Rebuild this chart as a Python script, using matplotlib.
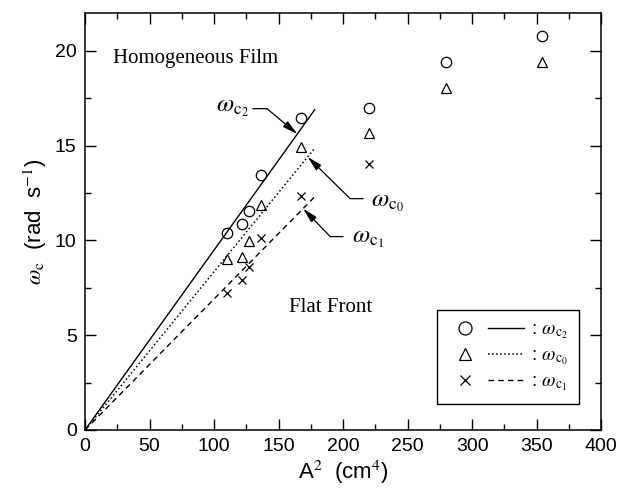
import matplotlib
matplotlib.use("Agg")
import matplotlib.pyplot as plt
from matplotlib.legend_handler import HandlerTuple
from matplotlib.ticker import MultipleLocator
import numpy as np

plt.rcParams['font.family'] = ['Liberation Sans', 'DejaVu Sans']
plt.rcParams['mathtext.fontset'] = 'stix'

# measured critical frequencies vs A^2
a2 = [110, 122, 127, 136, 167, 220, 280, 354]
wc2 = [10.4, 10.85, 11.55, 13.45, 16.45, 17.0, 19.4, 20.8]
wc0 = [9.0, 9.1, 9.95, 11.85, 14.95, 15.65, 18.05, 19.4]
wc1 = [7.2, 7.9, 8.6, 10.1, 12.35, 14.05]

# straight-line fits through the origin
fit_x = [0, 178]
slope_c2 = 0.0949
slope_c0 = 0.0835
slope_c1 = 0.0691

fig = plt.figure(figsize=(6.21, 4.97), dpi=100, facecolor='white')
ax = fig.add_axes([0.137, 0.135, 0.831, 0.839])

fx = np.array(fit_x)
l2, = ax.plot(fx, slope_c2 * fx, 'k-', lw=1.0)
l0, = ax.plot(fx, slope_c0 * fx, 'k:', lw=1.1)
l1, = ax.plot(fx, slope_c1 * fx, 'k--', lw=1.0, dashes=(4, 3))

m2, = ax.plot(a2, wc2, 'o', mfc='none', mec='k', ms=7.5, mew=0.9, ls='none')
m0, = ax.plot(a2, wc0, '^', mfc='none', mec='k', ms=7, mew=0.9, ls='none')
m1, = ax.plot(a2[:len(wc1)], wc1, 'x', color='k', ms=5.5, mew=0.9, ls='none')

ax.set_xlim(0, 400)
ax.set_ylim(0, 22)
ax.xaxis.set_major_locator(MultipleLocator(50))
ax.xaxis.set_minor_locator(MultipleLocator(25))
ax.yaxis.set_major_locator(MultipleLocator(5))
ax.yaxis.set_minor_locator(MultipleLocator(2.5))
ax.tick_params(which='both', direction='in', top=True, right=True, labelsize=14, width=1)
ax.tick_params(which='major', length=8, pad=6)
ax.tick_params(which='minor', length=4)
for s in ax.spines.values():
    s.set_linewidth(1.1)

ax.set_xlabel(r'A$^2$  (cm$^4$)', fontsize=16, labelpad=2)
ax.set_ylabel(r'$\omega_{\rm c}$  (rad  s$^{-1}$)', fontsize=16, labelpad=4)

serif = ['Liberation Serif', 'DejaVu Serif']
ax.text(21.5, 19.6, 'Homogeneous Film', family=serif, fontsize=15, va='center', ha='left')
ax.text(158, 6.45, 'Flat Front', family=serif, fontsize=15, va='center', ha='left')

# labelled leaders pointing at each fit line
arrow = dict(arrowstyle='-|>,head_length=0.9,head_width=0.22', color='k', lw=0.9,
             shrinkA=0, shrinkB=0)
tail = dict(arrowstyle='-', color='k', lw=0.9, shrinkA=0, shrinkB=0)

ax.text(114, 17.05, r'$\omega_{\mathrm{c}_2}$', fontsize=18, ha='center', va='center')
ax.annotate('', xy=(141, 16.95), xytext=(130, 16.95), arrowprops=tail)
ax.annotate('', xy=(164.5, slope_c2 * 164.5), xytext=(141, 16.95), arrowprops=arrow)

ax.text(222, 12.05, r'$\omega_{\mathrm{c}_0}$', fontsize=18, ha='left', va='center')
ax.annotate('', xy=(215.5, 12.2), xytext=(205.5, 12.2), arrowprops=tail)
ax.annotate('', xy=(172.5, slope_c0 * 172.5), xytext=(205.5, 12.2), arrowprops=arrow)

ax.text(207, 10.15, r'$\omega_{\mathrm{c}_1}$', fontsize=18, ha='left', va='center')
ax.annotate('', xy=(200, 10.2), xytext=(190, 10.2), arrowprops=tail)
ax.annotate('', xy=(169, slope_c1 * 169), xytext=(190, 10.2), arrowprops=arrow)

leg = ax.legend([(m2, l2), (m0, l0), (m1, l1)],
                [r': $\omega_{\mathrm{c}_2}$', r': $\omega_{\mathrm{c}_0}$', r': $\omega_{\mathrm{c}_1}$'],
                handler_map={tuple: HandlerTuple(ndivide=None, pad=0.26)},
                handlelength=3.9, handletextpad=0.4, labelspacing=0.3,
                borderpad=0.55, borderaxespad=0, markerscale=1.25, fontsize=14,
                fancybox=False, edgecolor='k', framealpha=1,
                loc='lower left', bbox_to_anchor=(0.682, 0.062))
leg.get_frame().set_linewidth(1.0)

fig.savefig('out.png', dpi=100, facecolor='white')
